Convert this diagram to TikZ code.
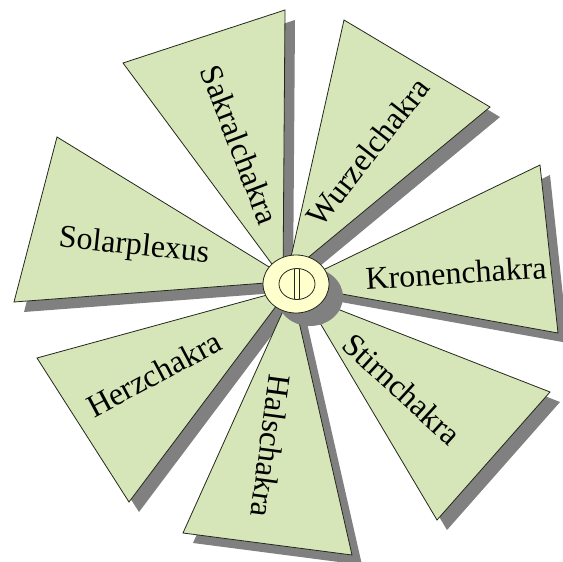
\documentclass[tikz,border=0pt]{standalone}
\usepackage{fontspec}
\setmainfont{Liberation Serif}
\definecolor{petalfill}{RGB}{214,230,184}
\definecolor{shadefill}{RGB}{128,128,128}
\definecolor{hubfill}{RGB}{255,255,206}
\definecolor{edgecol}{RGB}{35,40,28}
\begin{document}
\begin{tikzpicture}[x=1pt,y=-1pt,
  petal/.style={fill=petalfill,draw=edgecol,line width=0.8pt,line join=miter},
  petalshadow/.style={fill=shadefill,draw=none},
  hubpart/.style={fill=hubfill,draw=edgecol,line width=0.8pt},
  lbl/.style={font=\fontsize{32}{32}\selectfont,text=black,inner sep=0pt,anchor=center}]
\useasboundingbox (0,0) rectangle (563,562);
\fill[white] (0,0) rectangle (563,562);
% petal shadows
\foreach \ax/\ay/\bx/\by/\cx/\cy in {
  292/281/57/137/14/302,
  283/279/123/63/285/10,
  287/275/344/20/490/107,
  292/285/540/165/558/333,
  304/296/550/392/437/520,
  292/291/352/555/183/533,
  289/289/129/502/37/358}
  {\fill[petalshadow,shift={(10,10)}] (\ax,\ay) -- (\bx,\by) -- (\cx,\cy) -- cycle;}
% petals
\foreach \ax/\ay/\bx/\by/\cx/\cy in {
  292/281/57/137/14/302,
  283/279/123/63/285/10,
  287/275/344/20/490/107,
  292/285/540/165/558/333,
  304/296/550/392/437/520,
  292/291/352/555/183/533,
  289/289/129/502/37/358}
  {\draw[petal] (\ax,\ay) -- (\bx,\by) -- (\cx,\cy) -- cycle;}
% labels
\node[lbl,rotate=-6] (solar) at (134,247) {Solarplexus};
\node[lbl,rotate=-69] (sakral) at (240,145) {Sakralchakra};
\node[lbl,rotate=52] (wurzel) at (368,152) {Wurzelchakra};
\node[lbl,rotate=3.6] (kronen) at (456,273) {Kronenchakra};
\node[lbl,rotate=-42.4] (stirn) at (402,389) {Stirnchakra};
\node[lbl,rotate=-97.6] (hals) at (271,446) {Halschakra};
\node[lbl,rotate=28] (herz) at (154,374) {Herzchakra};
% hub
\fill[shadefill] (310,297) ellipse [x radius=33, y radius=29];
\draw[hubpart] (296,284) ellipse [x radius=33, y radius=29];
\draw[hubpart] (297,284) ellipse [x radius=18, y radius=15.5];
\begin{scope}
  \clip (297,284) ellipse [x radius=18, y radius=15.5];
  \draw[edgecol,line width=0.8pt] (294,260) -- (294,310);
  \draw[edgecol,line width=0.8pt] (299.5,260) -- (299.5,310);
\end{scope}
\end{tikzpicture}
\end{document}
